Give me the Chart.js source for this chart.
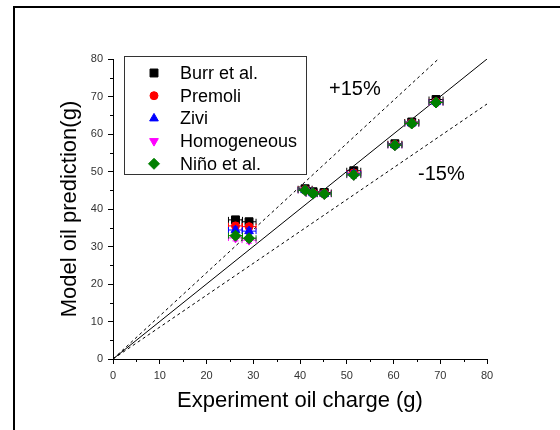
<!DOCTYPE html>
<html>
<head>
<meta charset="utf-8">
<script src="https://cdn.jsdelivr.net/npm/chart.js@4/dist/chart.umd.min.js"></script>
<style>
  body { margin: 0; background: #fff; }
  canvas { display: block; }
</style>
</head>
<body>
<canvas id="chart" width="560" height="430"></canvas>
<script>
// values
const expCharge = [26.2, 29.1, 41.1, 42.8, 45.2, 51.5, 60.3, 63.9, 69.1];
const burr = [37.1, 36.6, 45.4, 44.6, 44.4, 50.2, 57.4, 63.2, 69.2];
const premoli = [35.5, 35.3, 45.2, 44.3, 44.2, 49.6, 57.2, 63.0, 68.6];
const zivi = [34.4, 34.1, 45.1, 44.2, 44.1, 49.4, 57.1, 62.9, 68.5];
const homogeneous = [32.3, 31.7, 44.9, 44.0, 43.9, 49.0, 56.9, 62.7, 68.3];
const nino = [32.9, 32.2, 45.0, 44.1, 44.0, 49.1, 57.0, 62.8, 68.4];
const xErr = [1.5, 1.5, 1.5, 1.5, 1.5, 1.5, 1.5, 1.5, 1.5];
const yErr = [0.8, 0.8, 0.8, 0.8, 0.8, 0.8, 0.8, 0.8, 0.8];

// reference lines: y = x, +15 %, -15 %
const parityLine = [[0, 0], [80, 80]];
const plus15Line = [[0, 0], [69.6, 80]];
const minus15Line = [[0, 0], [80, 68]];

const axisTicks = [0, 10, 20, 30, 40, 50, 60, 70, 80];
const minorTicks = [5, 15, 25, 35, 45, 55, 65, 75];

const toPoints = ys => ys.map((y, i) => ({ x: expCharge[i], y: y }));
const toLine = pts => pts.map(p => ({ x: p[0], y: p[1] }));

function series(label, ys, color, style, radius, rotation, order) {
    return {
        type: 'scatter',
        label: label,
        data: toPoints(ys),
        backgroundColor: color,
        borderColor: color,
        borderWidth: 1,
        pointStyle: style,
        pointRadius: radius,
        rotation: rotation,
        order: order
    };
}

function refLine(pts, dash) {
    return {
        type: 'line',
        label: '',
        data: toLine(pts),
        borderColor: '#000',
        borderWidth: 1,
        borderDash: dash,
        pointRadius: 0,
        fill: false,
        order: 10,
        isRef: true
    };
}

const frame = {
    id: 'frame',
    beforeDraw(chart) {
        const ctx = chart.ctx;
        ctx.save();
        ctx.fillStyle = '#fff';
        ctx.fillRect(0, 0, chart.width, chart.height);
        ctx.strokeStyle = '#000';
        ctx.lineWidth = 2;
        ctx.beginPath();
        ctx.moveTo(14, chart.height);
        ctx.lineTo(14, 7);
        ctx.lineTo(chart.width, 7);
        ctx.stroke();
        ctx.restore();
    }
};

const errorBars = {
    id: 'errorBars',
    beforeDatasetDraw(chart, args) {
        const ds = chart.data.datasets[args.index];
        if (ds.isRef) return;
        const xs = chart.scales.x, ys = chart.scales.y, ctx = chart.ctx;
        ctx.save();
        ctx.strokeStyle = ds.borderColor;
        ctx.lineWidth = 1;
        ds.data.forEach((p, i) => {
            const cx = xs.getPixelForValue(p.x), cy = ys.getPixelForValue(p.y);
            const x0 = xs.getPixelForValue(p.x - xErr[i]), x1 = xs.getPixelForValue(p.x + xErr[i]);
            const y0 = ys.getPixelForValue(p.y - yErr[i]), y1 = ys.getPixelForValue(p.y + yErr[i]);
            ctx.beginPath();
            ctx.moveTo(x0, cy); ctx.lineTo(x1, cy);
            ctx.moveTo(x0, cy - 3); ctx.lineTo(x0, cy + 3);
            ctx.moveTo(x1, cy - 3); ctx.lineTo(x1, cy + 3);
            ctx.moveTo(cx, y0); ctx.lineTo(cx, y1);
            ctx.moveTo(cx - 3, y0); ctx.lineTo(cx + 3, y0);
            ctx.moveTo(cx - 3, y1); ctx.lineTo(cx + 3, y1);
            ctx.stroke();
        });
        ctx.restore();
    }
};

// minor ticks, legend box and the +/-15% labels
const extras = {
    id: 'extras',
    afterDraw(chart) {
        const ctx = chart.ctx, xs = chart.scales.x, ys = chart.scales.y;
        const area = chart.chartArea;
        ctx.save();
        ctx.strokeStyle = '#000';
        ctx.lineWidth = 1;
        ctx.beginPath();
        minorTicks.forEach(v => {
            const px = Math.round(xs.getPixelForValue(v)) + 0.5;
            ctx.moveTo(px, area.bottom); ctx.lineTo(px, area.bottom + 3);
            const py = Math.round(ys.getPixelForValue(v)) + 0.5;
            ctx.moveTo(area.left, py); ctx.lineTo(area.left - 3, py);
        });
        ctx.stroke();

        // legend
        ctx.fillStyle = '#fff';
        ctx.fillRect(124, 56, 182, 118);
        ctx.strokeStyle = '#333';
        ctx.strokeRect(124.5, 56.5, 182, 118);
        ctx.font = '18px "Liberation Sans", Arial, sans-serif';
        ctx.textBaseline = 'middle';
        const items = chart.data.datasets.filter(d => !d.isRef);
        items.forEach((d, i) => {
            const y = 73 + i * 22.7;
            ctx.fillStyle = d.backgroundColor;
            ctx.strokeStyle = d.borderColor;
            ctx.lineWidth = 1;
            Chart.helpers.drawPoint(ctx, {
                pointStyle: d.pointStyle, radius: d.pointRadius, rotation: d.rotation, borderWidth: 1
            }, 154, y);
            ctx.fillStyle = '#000';
            ctx.fillText(d.label, 180, y + 1);
        });

        ctx.font = '20px "Liberation Sans", Arial, sans-serif';
        ctx.fillStyle = '#000';
        ctx.fillText('+15%', 329, 89);
        ctx.fillText('-15%', 418, 174);
        ctx.restore();
    }
};

new Chart(document.getElementById('chart'), {
    data: {
        datasets: [
            series('Burr et al.', burr, '#000000', 'rect', 5.6, 0, 4),
            series('Premoli', premoli, '#ff0000', 'circle', 4, 0, 3),
            series('Zivi', zivi, '#0000ff', 'triangle', 5, 0, 2),
            series('Homogeneous', homogeneous, '#ff00ff', 'triangle', 5, 180, 1),
            series('Niño et al.', nino, '#008000', 'rectRot', 5.5, 0, 0),
            refLine(parityLine, []),
            refLine(plus15Line, [3, 3]),
            refLine(minus15Line, [3, 3])
        ]
    },
    options: {
        responsive: false,
        devicePixelRatio: 1,
        animation: false,
        layout: { padding: { left: 0, top: 59, right: 73, bottom: 13 } },
        plugins: { legend: { display: false }, tooltip: { enabled: false } },
        scales: {
            x: {
                type: 'linear',
                min: 0, max: 80,
                afterFit: s => { s.height = 58; },
                afterBuildTicks: s => { s.ticks = axisTicks.map(v => ({ value: v })); },
                border: { color: '#000', width: 1 },
                grid: { drawOnChartArea: false, tickLength: 5, color: '#000' },
                ticks: { padding: 5, color: '#333', font: { family: '"Liberation Sans", Arial', size: 11 } },
                title: {
                    display: true, text: 'Experiment oil charge (g)', color: '#000',
                    font: { family: '"Liberation Sans", Arial', size: 22 }, padding: { top: 0, bottom: 3 }
                }
            },
            y: {
                type: 'linear',
                min: 0, max: 80,
                afterFit: s => { s.width = 113; },
                afterBuildTicks: s => { s.ticks = axisTicks.map(v => ({ value: v })); },
                border: { color: '#000', width: 1 },
                grid: { drawOnChartArea: false, tickLength: 5, color: '#000' },
                ticks: { padding: 5, color: '#333', font: { family: '"Liberation Sans", Arial', size: 11 } },
                title: {
                    display: true, text: 'Model oil prediction(g)', color: '#000',
                    font: { family: '"Liberation Sans", Arial', size: 22 }, padding: { top: 57, bottom: 0 }
                }
            }
        }
    },
    plugins: [frame, errorBars, extras]
});
</script>
</body>
</html>
